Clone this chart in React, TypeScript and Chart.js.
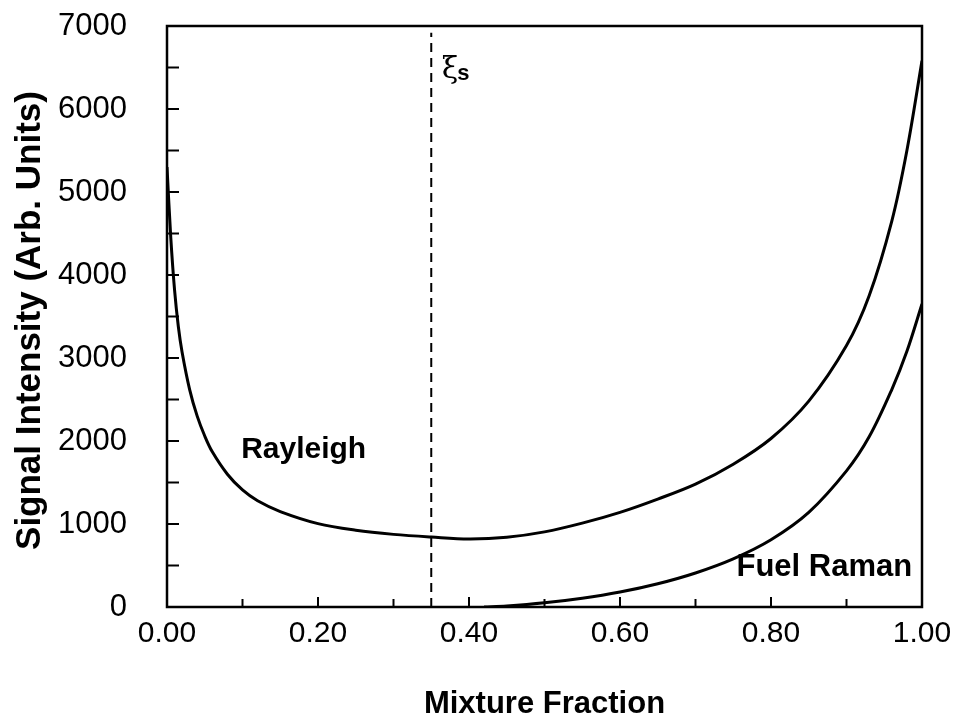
import React, { useEffect, useRef } from 'react';
import { Chart, registerables } from 'chart.js';

Chart.register(...registerables);

// Mixture fraction (x) and signal intensity (y)
const rayleighX = [0, 0.005, 0.01, 0.015, 0.02, 0.03, 0.04, 0.05, 0.06, 0.08, 0.1, 0.12, 0.15, 0.2, 0.25, 0.3, 0.35, 0.4, 0.45, 0.5, 0.55, 0.6, 0.65, 0.7, 0.75, 0.8, 0.85, 0.9, 0.93, 0.96, 0.98, 1.0];
const rayleighY = [5300, 4450, 3820, 3380, 3070, 2620, 2300, 2060, 1870, 1600, 1410, 1280, 1150, 1005, 925, 875, 843, 820, 840, 905, 1010, 1140, 1300, 1480, 1720, 2030, 2480, 3150, 3750, 4650, 5500, 6580];

const ramanX = [0.42, 0.45, 0.5, 0.55, 0.6, 0.65, 0.7, 0.75, 0.8, 0.85, 0.9, 0.93, 0.96, 0.98, 1.0];
const ramanY = [0, 12, 50, 105, 180, 280, 410, 580, 810, 1140, 1640, 2050, 2620, 3080, 3650];

const stoichX = 0.35;
const yRange = [0, 7000];
const xRange = [0, 1];

const labels = {
  xTitle: 'Mixture Fraction',
  yTitle: 'Signal Intensity (Arb. Units)',
  rayleigh: 'Rayleigh',
  raman: 'Fuel Raman',
};

const FONT = '"Liberation Sans", Arial, Helvetica, sans-serif';

export default function App() {
  const ref = useRef<HTMLCanvasElement | null>(null);

  useEffect(() => {
    document.body.style.margin = '0';
    const canvas = ref.current;
    if (!canvas) return;

    const decor = {
      id: 'decor',
      afterDraw(chart: any) {
        const { ctx, chartArea: a, scales } = chart;
        const xs = scales.x;
        const ys = scales.y;
        ctx.save();
        ctx.strokeStyle = '#000';
        ctx.lineWidth = 2.5;
        ctx.strokeRect(a.left, a.top, a.right - a.left, a.bottom - a.top);
        ctx.lineWidth = 2;
        ys.ticks.forEach((t: any) => {
          const py = ys.getPixelForValue(t.value);
          ctx.beginPath();
          ctx.moveTo(a.left, py);
          ctx.lineTo(a.left + 12, py);
          ctx.stroke();
        });
        xs.ticks.forEach((t: any, i: number) => {
          const px = xs.getPixelForValue(t.value);
          const len = i % 2 === 0 ? 10 : 8;
          ctx.beginPath();
          ctx.moveTo(px, a.bottom);
          ctx.lineTo(px, a.bottom - len);
          ctx.stroke();
        });
        ctx.fillStyle = '#000';
        ctx.font = `bold 30px ${FONT}`;
        ctx.textBaseline = 'middle';
        ctx.textAlign = 'center';
        ctx.fillText(labels.rayleigh, xs.getPixelForValue(0.181), ys.getPixelForValue(1890));
        ctx.font = `bold 31px ${FONT}`;
        ctx.textAlign = 'right';
        ctx.fillText(labels.raman, xs.getPixelForValue(0.987), ys.getPixelForValue(482));
        ctx.textAlign = 'left';
        ctx.textBaseline = 'alphabetic';
        ctx.font = `30px "DejaVu Serif", serif`;
        const gx = xs.getPixelForValue(0.364);
        const gy = ys.getPixelForValue(6370);
        ctx.fillText('ξ', gx, gy);
        const w = ctx.measureText('ξ').width;
        ctx.font = `bold 22px ${FONT}`;
        ctx.fillText('s', gx + w - 1, gy + 2);
        ctx.textAlign = 'center';
        ctx.textBaseline = 'middle';
        ctx.font = `bold 31px ${FONT}`;
        ctx.fillText(labels.xTitle, (a.left + a.right) / 2, a.bottom + 97);
        ctx.font = `bold 35px ${FONT}`;
        ctx.translate(30, (a.top + a.bottom) / 2 + 4);
        ctx.rotate(-Math.PI / 2);
        ctx.fillText(labels.yTitle, 0, 0);
        ctx.restore();
      },
    };

    const chart = new Chart(canvas, {
      type: 'scatter',
      data: {
        datasets: [
          {
            label: labels.rayleigh,
            data: rayleighX.map((x, i) => ({ x, y: rayleighY[i] })),
            showLine: true,
            borderColor: '#000',
            borderWidth: 3,
            pointRadius: 0,
            tension: 0.35,
          },
          {
            label: labels.raman,
            data: ramanX.map((x, i) => ({ x, y: ramanY[i] })),
            showLine: true,
            borderColor: '#000',
            borderWidth: 3,
            pointRadius: 0,
            tension: 0.35,
          },
          {
            label: 'stoich',
            data: [
              { x: stoichX, y: 0 },
              { x: stoichX, y: 6920 },
            ],
            showLine: true,
            borderColor: '#000',
            borderWidth: 2,
            borderDash: [9, 6],
            pointRadius: 0,
          },
        ],
      },
      options: {
        animation: false,
        responsive: false,
        layout: { padding: { top: 26, right: 34, left: 0, bottom: 0 } },
        plugins: { legend: { display: false }, tooltip: { enabled: false } },
        scales: {
          x: {
            type: 'linear',
            min: xRange[0],
            max: xRange[1],
            grid: { display: false },
            border: { display: false },
            ticks: {
              stepSize: 0.1,
              padding: 1,
              color: '#000',
              font: { family: FONT, size: 30 },
              callback: (v: any) => {
                const n = Math.round(Number(v) * 10);
                return n % 2 === 0 ? (n / 10).toFixed(2) : '';
              },
              maxRotation: 0,
              autoSkip: false,
            },
            afterFit: (s: any) => {
              s.height = 117;
              s.paddingLeft = 0;
              s.paddingRight = 0;
            },
          },
          y: {
            type: 'linear',
            min: yRange[0],
            max: yRange[1],
            grid: { display: false },
            border: { display: false },
            ticks: {
              stepSize: 500,
              padding: 32,
              color: '#000',
              font: { family: FONT, size: 31 },
              callback: (v: any) => (Number(v) % 1000 === 0 ? String(v) : ''),
              autoSkip: false,
            },
            afterFit: (s: any) => {
              s.width = 167;
              s.paddingTop = 0;
              s.paddingBottom = 0;
            },
          },
        },
      },
      plugins: [decor],
    });

    return () => chart.destroy();
  }, []);

  return <canvas ref={ref} width={956} height={724} style={{ display: 'block' }} />;
}
